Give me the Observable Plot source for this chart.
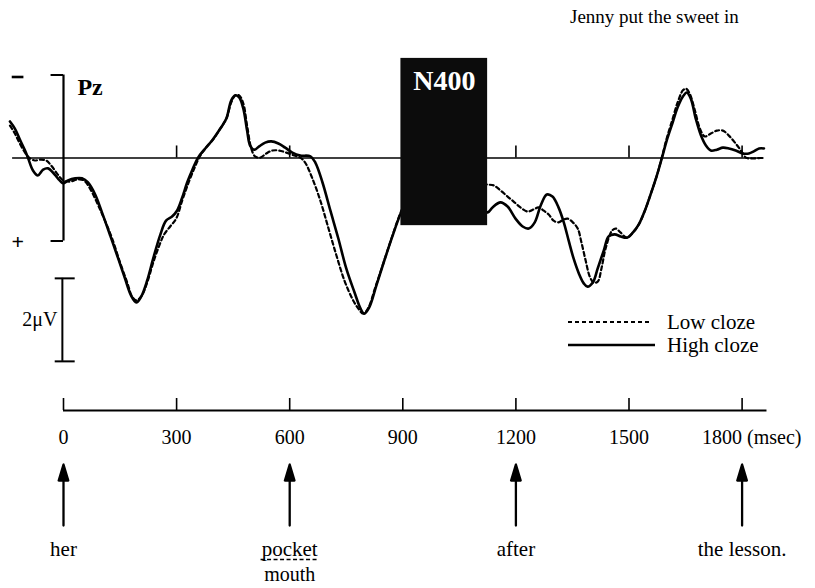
<!DOCTYPE html>
<html>
<head>
<meta charset="utf-8">
<script src="https://cdn.jsdelivr.net/npm/d3@7"></script>
<script src="https://cdn.jsdelivr.net/npm/@observablehq/plot@0.6"></script>
<style>
  html, body { margin: 0; padding: 0; background: #fff; }
  #chart { position: relative; width: 815px; height: 588px; background: #fff; overflow: hidden;
           font-family: "Liberation Serif", "Times New Roman", serif; color: #000; }
  #chart > svg { position: absolute; left: 0; }
  #title { position: absolute; left: 570px; top: 6px; font-size: 19px; white-space: nowrap; }
  .leg { position: absolute; left: 566px; height: 24px; display: flex; align-items: center; font-size: 21px; white-space: nowrap; }
  .leg svg { width: 92px; height: 10px; margin-right: 9px; }
</style>
</head>
<body>
<div id="chart">
  <div id="title">Jenny put the sweet in</div>
</div>
<script>
// ---------------- DATA ----------------
// Pz ERP, time in ms, amplitude in µV (negative plotted up)
const highClozeMs = [-142,-129,-116,-102,-94,-81,-68,-54,-41,-28,-15,-1,12,31,49,65,84,102,124,145,163,179,193,206,222,238,256,272,288,301,315,328,341,357,376,394,416,432,445,456,466,477,487,495,506,519,535,551,570,588,607,628,655,668,687,708,729,750,772,788,798,811,830,851,873,894,904,934,960,987,1013,1040,1066,1093,1125,1138,1159,1178,1199,1218,1234,1250,1266,1282,1297,1313,1327,1340,1353,1367,1380,1390,1404,1417,1433,1446,1462,1478,1494,1510,1526,1542,1558,1574,1587,1600,1616,1629,1643,1653,1664,1677,1691,1704,1717,1733,1749,1765,1783,1802,1818,1831,1845,1858];
const highClozeUV = [-0.88,-0.71,-0.45,-0.18,0.0,0.30,0.42,0.28,0.25,0.35,0.49,0.61,0.54,0.49,0.49,0.59,0.88,1.31,1.87,2.42,2.90,3.31,3.48,3.34,2.95,2.42,1.87,1.51,1.41,1.27,0.95,0.59,0.30,-0.01,-0.23,-0.42,-0.71,-0.95,-1.39,-1.51,-1.46,-1.19,-0.66,-0.30,-0.20,-0.28,-0.37,-0.40,-0.35,-0.25,-0.13,-0.06,-0.04,0.11,0.59,1.27,1.94,2.66,3.24,3.63,3.75,3.60,3.07,2.47,1.87,1.34,1.14,0.78,0.54,0.49,0.59,0.78,1.02,1.22,1.31,1.19,1.07,1.17,1.46,1.65,1.70,1.55,1.14,0.88,0.93,1.19,1.55,1.99,2.42,2.78,3.02,3.10,3.00,2.66,2.23,1.89,1.84,1.89,1.92,1.80,1.60,1.27,0.86,0.42,0.01,-0.42,-0.86,-1.22,-1.48,-1.58,-1.43,-0.95,-0.54,-0.30,-0.18,-0.20,-0.25,-0.23,-0.18,-0.11,-0.11,-0.16,-0.23,-0.23];

const lowClozeMs = [-142,-129,-116,-102,-89,-76,-62,-46,-31,-15,-1,17,36,54,73,92,110,129,150,169,182,193,206,222,238,254,267,283,299,315,331,347,360,376,397,416,432,445,456,466,477,487,498,508,522,538,554,572,591,612,628,641,660,681,703,724,745,766,782,795,809,827,849,870,891,904,934,960,987,1013,1040,1066,1093,1125,1141,1159,1178,1194,1212,1231,1247,1260,1274,1287,1300,1313,1327,1337,1351,1364,1374,1385,1396,1406,1417,1427,1438,1455,1465,1478,1494,1510,1526,1542,1558,1574,1587,1600,1616,1629,1643,1651,1661,1675,1688,1701,1717,1733,1749,1765,1781,1797,1810,1823,1836,1849,1858];
const lowClozeUV = [-0.78,-0.59,-0.35,-0.13,0.01,0.06,0.04,0.06,0.20,0.40,0.54,0.57,0.52,0.54,0.78,1.14,1.51,1.94,2.52,3.00,3.34,3.43,3.34,3.00,2.52,2.11,1.84,1.65,1.46,1.02,0.61,0.25,-0.01,-0.23,-0.45,-0.71,-0.95,-1.34,-1.51,-1.51,-1.31,-0.78,-0.23,-0.04,-0.01,-0.11,-0.18,-0.18,-0.13,-0.06,-0.01,0.11,0.49,1.02,1.70,2.35,2.95,3.39,3.63,3.75,3.60,3.12,2.52,1.94,1.39,1.14,0.78,0.59,0.49,0.49,0.54,0.59,0.61,0.64,0.66,0.78,0.93,1.05,1.19,1.29,1.24,1.19,1.27,1.36,1.51,1.55,1.48,1.46,1.55,1.70,2.04,2.47,2.86,3.00,2.98,2.66,2.18,1.75,1.70,1.80,1.92,1.80,1.60,1.27,0.86,0.42,-0.01,-0.47,-0.95,-1.34,-1.63,-1.67,-1.55,-1.14,-0.71,-0.52,-0.59,-0.66,-0.66,-0.54,-0.37,-0.18,-0.01,0.01,0.01,0.0,0.0];

const n400Window = {start: 895, end: 1125, top: -2.4, bottom: 1.63, label: "N400"};
const baselineSpan = [-135, 1858];                 // ms
const epochTicks = [300, 600, 900, 1200, 1500, 1800]; // ms ticks on the baseline
const bracketRange = [-2, 2];                      // µV (− up, + down)
const calibration = [2.9, 4.9];                    // 2 µV calibration bar
const axisTicks = [0, 300, 600, 900, 1200, 1500, 1800];
const axisLabels = ["0", "300", "600", "900", "1200", "1500", "1800 (msec)"];
const words = [
  {t: 0, word: "her"},
  {t: 600, word: "pocket"},
  {t: 1200, word: "after"},
  {t: 1800, word: "the lesson."}
];
const altWords = [{t: 600, word: "mouth"}];

// ---------------- TABLES ----------------
const high = highClozeMs.map((t, i) => ({t, v: highClozeUV[i]}));
const low = lowClozeMs.map((t, i) => ({t, v: lowClozeUV[i]}));

const FONT = "Liberation Serif, Times New Roman, serif";
const X = {domain: [-150, 1900], axis: null};
const ML = 6.45, MR = 35.7;

// ---------------- TOP: ERP ----------------
const topPlot = Plot.plot({
  width: 815, height: 390,
  marginLeft: ML, marginRight: MR, marginTop: 0, marginBottom: 0,
  x: X,
  y: {domain: [-3.795, 5.602], reverse: true, axis: null},
  style: {fontFamily: FONT, background: "transparent", overflow: "visible", color: "#000"},
  marks: [
    Plot.ruleY([0], {x1: baselineSpan[0], x2: baselineSpan[1], stroke: "#000", strokeWidth: 1.7}),
    Plot.ruleX(epochTicks, {x: d => d, y1: 0, y2: -0.29, stroke: "#000", strokeWidth: 1.6}),
    // polarity bracket
    Plot.ruleX([0], {y1: bracketRange[0], y2: bracketRange[1], stroke: "#000", strokeWidth: 2.2}),
    Plot.ruleY(bracketRange, {y: d => d, x1: -33, x2: 0, stroke: "#000", strokeWidth: 2}),
    Plot.ruleY([bracketRange[0]], {y: d => d, x1: -136, x2: -105, dy: 2, stroke: "#000", strokeWidth: 2.6}),
    Plot.text(["+"], {x: -121, y: bracketRange[1], text: d => d, fontSize: 22, fontWeight: "bold", dy: 1}),
    Plot.text(["Pz"], {x: 37, y: -1.70, text: d => d, textAnchor: "start", fontSize: 24, fontWeight: "bold"}),
    // calibration bar
    Plot.ruleX([-3], {y1: calibration[0], y2: calibration[1], stroke: "#000", strokeWidth: 2}),
    Plot.ruleY(calibration, {y: d => d, x1: -22, x2: 31, stroke: "#000", strokeWidth: 2}),
    Plot.text(["2μV"], {x: -16, y: (calibration[0] + calibration[1]) / 2, text: d => d, textAnchor: "end", fontSize: 20}),
    // waveforms
    Plot.line(low, {x: "t", y: "v", curve: "catmull-rom", stroke: "#000", strokeWidth: 2.2, strokeDasharray: "4,3"}),
    Plot.line(high, {x: "t", y: "v", curve: "catmull-rom", stroke: "#000", strokeWidth: 2.6}),
    // N400 window
    Plot.rect([n400Window], {x1: "start", x2: "end", y1: "top", y2: "bottom", fill: "#0c0c0c"}),
    Plot.text([n400Window], {x: d => (d.start + d.end) / 2, y: "top", text: "label", fill: "#fff",
      fontSize: 28, fontWeight: "bold", dy: 23})
  ]
});
topPlot.style.top = "0px";
document.getElementById("chart").appendChild(topPlot);

// ---------------- BOTTOM: word timeline ----------------
const arrowShape = {
  draw(context, l) {
    context.moveTo(0, 0);
    context.lineTo(0, -l + 10);
    context.moveTo(0, -l);
    context.lineTo(-4.8, -l + 16);
    context.lineTo(4.8, -l + 16);
    context.closePath();
  }
};

const bottomPlot = Plot.plot({
  width: 815, height: 198,
  marginLeft: ML, marginRight: MR, marginTop: 20, marginBottom: 0,
  x: X,
  y: {domain: [0, 178], range: [20, 198], axis: null},
  style: {fontFamily: FONT, background: "transparent", overflow: "visible", color: "#000"},
  marks: [
    Plot.ruleY([0], {x1: axisTicks[0], x2: 1866, stroke: "#000", strokeWidth: 2}),
    Plot.ruleX(axisTicks, {x: d => d, y1: -12, y2: 0, stroke: "#000", strokeWidth: 1.6}),
    Plot.text(axisTicks.slice(0, -1), {x: d => d, y: 27, text: (d, i) => axisLabels[i], fontSize: 20}),
    Plot.text(axisTicks.slice(-1), {x: d => d, y: 27, text: () => axisLabels[axisLabels.length - 1],
      textAnchor: "start", dx: -40, fontSize: 20}),
    Plot.vector(words, {x: "t", y: 115, length: 61, anchor: "start", rotate: 0, shape: arrowShape,
      stroke: "#000", fill: "#000", strokeWidth: 2.3}),
    Plot.text(words, {x: "t", y: 139, text: "word", fontSize: 21}),
    Plot.ruleY(altWords, {x1: d => d.t - 76, x2: d => d.t + 76, y: 149, stroke: "#000", strokeWidth: 1.6, strokeDasharray: "4,2.5"}),
    Plot.text(altWords, {x: "t", y: 164, text: "word", fontSize: 20})
  ]
});
bottomPlot.style.top = "390px";
document.getElementById("chart").appendChild(bottomPlot);

// ---------------- LEGEND ----------------
const legendItems = [
  {label: "Low cloze", dash: "4,3", top: 310},
  {label: "High cloze", dash: null, top: 333}
];
for (const item of legendItems) {
  const row = document.createElement("div");
  row.className = "leg";
  row.style.top = item.top + "px";
  row.innerHTML = `<svg viewBox="0 0 92 10"><line x1="2" y1="5" x2="${item.dash ? 84 : 89}" y2="5" stroke="#000" stroke-width="${item.dash ? 2.2 : 2.6}" ${item.dash ? `stroke-dasharray="${item.dash}"` : ""}/></svg><span>${item.label}</span>`;
  document.getElementById("chart").appendChild(row);
}
</script>
</body>
</html>
